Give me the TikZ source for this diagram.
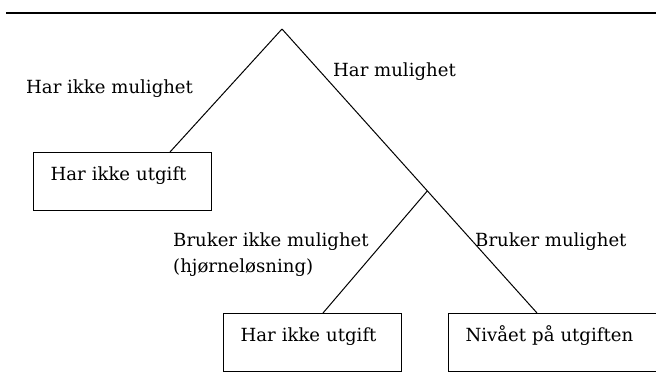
\documentclass[tikz,border=0pt]{standalone}
\usepackage{fontspec}
\setmainfont{DejaVu Serif}
\usetikzlibrary{calc}
\tikzset{
  lbl/.style={anchor=base west, inner sep=0pt, font=\fontsize{18.1}{22}\selectfont},
  box/.style={draw, line width=1pt, anchor=north west, inner xsep=17pt, inner ysep=0pt,
    text height=28pt, text depth=30pt, align=left, font=\fontsize{18.1}{22}\selectfont},
  branch/.style={line width=1pt},
}
\begin{document}
\begin{tikzpicture}[x=1pt,y=-1pt]
\useasboundingbox (0,0) rectangle (656,381);
\coordinate (rl) at (6,13);
\coordinate (rr) at (660,13);
\draw[line width=2.2pt] (rl) -- (rr);
\coordinate (apex) at (282,29);
\node[box, text width=144pt] (b1) at (33,152) {Har ikke utgift};
\node[box, text width=144pt] (b2) at (223,313) {Har ikke utgift};
\node[box, text width=200pt] (b3) at (448,313) {Nivået på utgiften};
\coordinate (t1) at ($(b1.north west)+(137,0)$);
\coordinate (t2) at ($(b2.north west)+(100,0)$);
\coordinate (t3) at ($(b3.north west)+(89,0)$);
\coordinate (split) at ($(apex)!0.57!(t3)$);
\draw[branch] (apex) -- (t1);
\draw[branch] (apex) -- (t3);
\draw[branch] (split) -- (t2);
\node[lbl] (l1) at (26,93) {Har ikke mulighet};
\node[lbl] (l2) at (333,76) {Har mulighet};
\node[lbl] (l3) at (173,246) {Bruker ikke mulighet};
\node[lbl] (l4) at (173,272) {(hjørneløsning)};
\node[lbl] (l5) at (475,246) {Bruker mulighet};
\end{tikzpicture}
\end{document}
